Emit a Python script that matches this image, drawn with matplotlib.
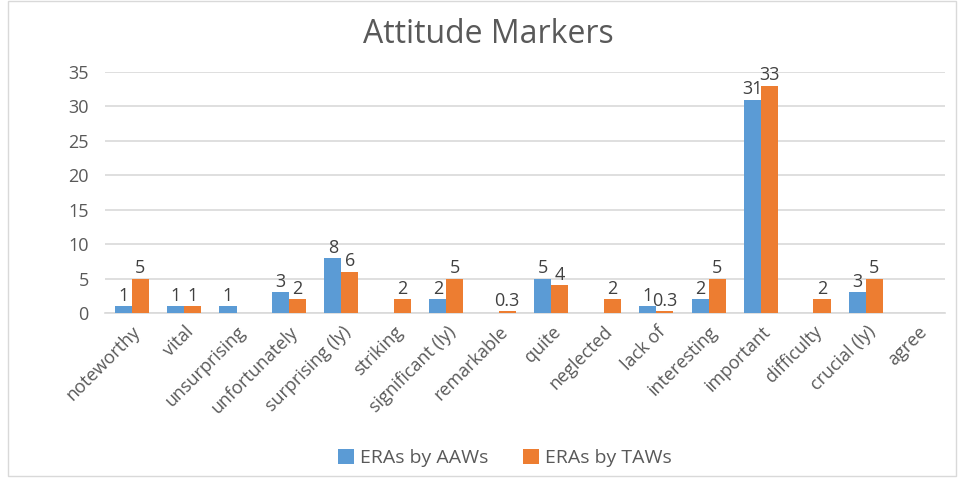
import matplotlib
matplotlib.use("Agg")
import matplotlib.pyplot as plt
import numpy as np
from matplotlib.patches import Rectangle

# data (nan = no bar)
categories = ["noteworthy", "vital", "unsurprising", "unfortunately",
              "surprising (ly)", "striking", "significant (ly)", "remarkable",
              "quite", "neglected", "lack of", "interesting", "important",
              "difficulty", "crucial (ly)", "agree"]
aaws = [1, 1, 1, 3, 8, np.nan, 2, np.nan, 5, np.nan, 1, 2, 31, np.nan, 3, np.nan]
taws = [5, 1, np.nan, 2, 6, 2, 5, 0.3, 4, 2, 0.3, 5, 33, 2, 5, np.nan]
series_names = ["ERAs by AAWs", "ERAs by TAWs"]
yticks = [0, 5, 10, 15, 20, 25, 30, 35]

plt.rcParams['font.family'] = ['Open Sans', 'DejaVu Sans']
text_col = "#595959"

fig = plt.figure(figsize=(9.58, 4.8), dpi=100)
ax = fig.add_axes([0.11, 0.348, 0.876, 0.502])

x = np.arange(len(categories))
w = 0.325
b1 = ax.bar(x - w / 2, aaws, w, color="#5B9BD5", label=series_names[0], zorder=3)
b2 = ax.bar(x + w / 2, taws, w, color="#ED7D31", label=series_names[1], zorder=3)

for bars, vals in ((b1, aaws), (b2, taws)):
    for rect, v in zip(bars, vals):
        if np.isnan(v):
            continue
        ax.text(rect.get_x() + rect.get_width() / 2, v + 0.2,
                f"{v:g}", ha="center", va="bottom", fontsize=13,
                color="#404040", zorder=4)

ax.set_xlim(-0.5, len(categories) - 0.5)
ax.set_ylim(0, 35)
ax.set_yticks(yticks)
ax.set_xticks(x)
ax.set_xticklabels(categories, rotation=45, ha="right", rotation_mode="anchor",
                   fontsize=13, color=text_col)
ax.tick_params(axis="y", labelsize=13, labelcolor=text_col, length=0, pad=12)
ax.tick_params(axis="x", length=0, pad=7)
ax.grid(axis="y", color="#d9d9d9", linewidth=1.2, zorder=0)
for s in ["top", "right", "left"]:
    ax.spines[s].set_visible(False)
ax.spines["bottom"].set_color("#d9d9d9")
ax.spines["bottom"].set_linewidth(1.2)

fig.text(0.51, 0.928, "Attitude Markers", ha="center", va="center",
         fontsize=23, color=text_col)

fig.legend(loc="center", bbox_to_anchor=(0.527, 0.045), ncol=2, frameon=False,
           fontsize=14, labelcolor=text_col, handlelength=0.8, handleheight=0.8,
           columnspacing=1.8, handletextpad=0.3)

fig.patches.append(Rectangle((0.008, 0.008), 0.99, 0.99, transform=fig.transFigure,
                             fill=False, edgecolor="#d9d9d9", linewidth=1))

fig.savefig("out.png", dpi=100)
